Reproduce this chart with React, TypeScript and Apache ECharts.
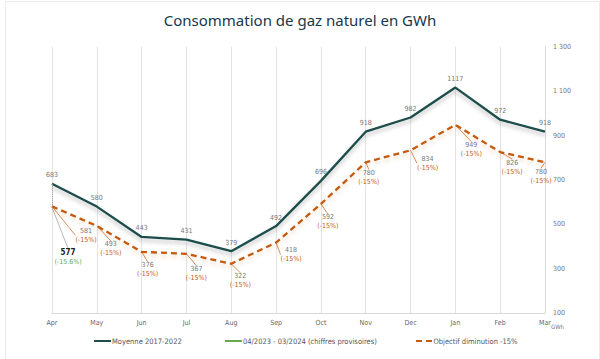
import React, { useEffect, useRef } from "react";
import * as echarts from "echarts";

const months = ["Apr", "May", "Jun", "Jul", "Aug", "Sep", "Oct", "Nov", "Dec", "Jan", "Feb", "Mar"];
const moyenne = [683, 580, 443, 431, 379, 492, 696, 918, 982, 1117, 972, 918];
const objectif = [581, 493, 376, 367, 322, 418, 592, 780, 834, 949, 826, 780];
const actuel: (number | null)[] = [577, null, null, null, null, null, null, null, null, null, null, null];
const actuelPct = ["-15.6%"];
const objectifPct = "-15%";

const NAMES = ["Moyenne 2017-2022", "04/2023 - 03/2024 (chiffres provisoires)", "Objectif diminution -15%"];
const TEAL = "#1e4d4b";
const GREEN = "#6aa84f";
const ORANGE = "#c55a11";
const FONT = "'Liberation Sans Narrow', 'DejaVu Sans Condensed', 'Roboto Condensed', Roboto, sans-serif";

const objOffsets = [
  [34, 15], [14, 9], [6, 4], [10, 6], [9, 3], [15, -2], [7, 4], [3, 1], [17, -1], [16, 11], [12, 1], [-4, 0],
];
const ICONS = ["rect", "rect", "path://M0,0h6v2h-6zM10,0h6v2h-6z"];
const CLEAR = "rgba(0,0,0,0)";

export default function App() {
  const ref = useRef<HTMLDivElement>(null);
  useEffect(() => {
    if (!ref.current) return;
    const chart = echarts.init(ref.current, undefined, { renderer: "svg" });
    const hidden = { symbol: "circle", symbolSize: 0.01, showSymbol: true };
    chart.setOption({
      animation: false,
      backgroundColor: "#fff",
      textStyle: { fontFamily: FONT },
      title: {
        text: "Consommation de gaz naturel en GWh",
        left: "center",
        top: 7,
        textStyle: { fontFamily: "'Noto Sans', sans-serif", fontSize: 15, fontWeight: "normal", color: "#15384a" },
      },
      graphic: [
        { type: "rect", left: 3, top: -1, shape: { width: 594, height: 358 }, style: { fill: "none", stroke: "#ebebeb", lineWidth: 1 }, silent: true },
        { type: "text", left: 551, top: 323, style: { text: "GWh", fontSize: 6, fill: "#777", fontFamily: FONT } },
      ],
      legend: [0, 1, 2].map((i) => ({
        data: [{ name: NAMES[i], icon: ICONS[i], itemStyle: { color: [TEAL, GREEN, ORANGE][i], opacity: 1 } }],
        left: [94, 225, 416][i],
        top: 337,
        padding: 0,
        itemWidth: 17,
        itemHeight: 2,
        itemGap: 0,
        textStyle: { fontSize: 7.5, color: "#555", fontFamily: FONT, padding: [0, 0, 0, -4] },
      })),
      grid: { left: 52, right: 55, top: 47, bottom: 46 },
      xAxis: {
        type: "category",
        data: months,
        boundaryGap: false,
        axisLine: { lineStyle: { color: "#d9d9d9" } },
        axisTick: { show: false },
        axisLabel: { fontSize: 7, color: "#666", margin: 6 },
        splitLine: { show: true, lineStyle: { color: "#e3e3e3" } },
      },
      yAxis: {
        type: "value",
        position: "right",
        min: 100,
        max: 1300,
        interval: 200,
        axisLine: { show: true, lineStyle: { color: "#d9d9d9" } },
        axisTick: { show: false },
        splitLine: { show: false },
        axisLabel: {
          fontSize: 7,
          color: "#777",
          margin: 8,
          formatter: (v: number) => String(v).replace(/\B(?=(\d{3})+(?!\d))/g, " "),
        },
      },
      series: [
        {
          name: NAMES[0],
          type: "line",
          data: moyenne,
          ...hidden,
          z: 3,
          lineStyle: { color: TEAL, width: 2.3, shadowColor: "rgba(0,0,0,0.25)", shadowBlur: 4, shadowOffsetY: 3 },
          itemStyle: { color: CLEAR, borderWidth: 0 },
          label: { show: true, position: "top", distance: 5, fontSize: 7, color: "#777" },
        },
        {
          name: NAMES[1],
          type: "line",
          data: actuel,
          ...hidden,
          z: 4,
          lineStyle: { color: GREEN, width: 2.2 },
          itemStyle: { color: CLEAR, borderWidth: 0 },
          label: {
            show: true,
            position: "bottom",
            distance: 5,
            formatter: (p: any) => `{a|${p.value}}\n{b|(${actuelPct[p.dataIndex]})}`,
            rich: {
              a: { fontSize: 8, fontWeight: "bold", color: "#222", lineHeight: 10, align: "center" },
              b: { fontSize: 7, color: GREEN, lineHeight: 9, align: "center" },
            },
          },
          labelLine: { show: true, lineStyle: { color: "#999", width: 0.7 } },
          labelLayout: { dx: 16, dy: 35 },
        },
        {
          name: NAMES[2],
          type: "line",
          data: objectif,
          ...hidden,
          z: 2,
          lineStyle: { color: ORANGE, width: 2.3, type: [6, 4], shadowColor: "rgba(197,90,17,0.25)", shadowBlur: 4, shadowOffsetY: 3 },
          itemStyle: { color: CLEAR, borderWidth: 0 },
          label: {
            show: true,
            position: "bottom",
            distance: 5,
            formatter: (p: any) => `{a|${p.value}}\n{b|(${objectifPct})}`,
            rich: {
              a: { fontSize: 7, color: "#777", lineHeight: 9, align: "center" },
              b: { fontSize: 7, color: ORANGE, lineHeight: 9, align: "center" },
            },
          },
          labelLine: { show: true, lineStyle: { color: ORANGE, width: 0.7 } },
          labelLayout: (p: any) => ({ dx: objOffsets[p.dataIndex][0], dy: objOffsets[p.dataIndex][1] }),
          markLine: {
            silent: true,
            symbol: "none",
            label: { show: false },
            lineStyle: { color: "#999", type: "dotted", width: 1 },
            data: [[{ coord: [months[0], moyenne[0]] }, { coord: [months[0], objectif[0]] }]],
          },
        },
      ],
    });
    return () => chart.dispose();
  }, []);
  return <div ref={ref} style={{ width: 600, height: 359, position: "absolute", left: 0, top: 0 }} />;
}
